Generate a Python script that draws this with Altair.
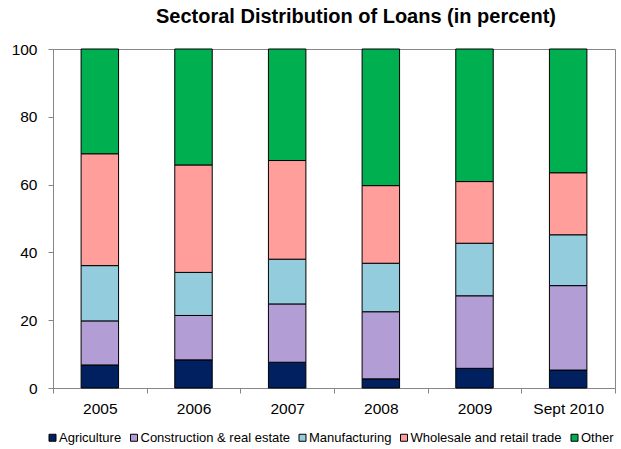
import altair as alt
import pandas as pd

years = ["2005", "2006", "2007", "2008", "2009", "Sept 2010"]
sectors = ["Agriculture", "Construction & real estate", "Manufacturing",
           "Wholesale and retail trade", "Other"]
colors = ["#002060", "#b29dd4", "#93cddd", "#ff9e9a", "#00b050"]

agriculture = [6.8, 8.3, 7.6, 2.7, 5.8, 5.3]
construction = [13.0, 13.1, 17.2, 19.8, 21.4, 24.9]
manufacturing = [16.3, 12.7, 13.2, 14.3, 15.5, 15.0]
wholesale = [33.0, 31.7, 29.1, 22.9, 18.2, 18.3]
other = [30.9, 34.2, 32.9, 40.3, 39.1, 36.5]

series = [agriculture, construction, manufacturing, wholesale, other]
rows = []
for k, (name, vals) in enumerate(zip(sectors, series)):
    for y, v in zip(years, vals):
        rows.append({"year": y, "sector": name, "value": v, "order": k})
df = pd.DataFrame(rows)

font = "Liberation Sans"
gray = "#868686"

chart = alt.Chart(df).mark_bar(
    width=alt.RelativeBandSize(band=0.4), stroke="black", strokeWidth=1
).encode(
    x=alt.X("year:N", sort=years, title=None,
            scale=alt.Scale(paddingInner=0, paddingOuter=0),
            axis=alt.Axis(labelAngle=0, tickBand="extent", domainColor=gray,
                          tickColor=gray, tickSize=5, labelFontSize=15.5,
                          labelColor="black", labelFont=font, labelPadding=8)),
    y=alt.Y("value:Q", stack="zero", title=None,
            scale=alt.Scale(domain=[0, 100], nice=False),
            axis=alt.Axis(values=[0, 20, 40, 60, 80, 100], grid=False,
                          domainColor=gray, tickColor=gray, tickSize=5,
                          labelFontSize=15.5, labelColor="black", labelFont=font,
                          labelPadding=11)),
    color=alt.Color("sector:N", sort=sectors,
                    scale=alt.Scale(domain=sectors, range=colors),
                    legend=alt.Legend(title=None, orient="none", direction="horizontal",
                                      columns=5, legendX=-7, legendY=382,
                                      symbolType="square", symbolSize=49,
                                      symbolStrokeColor="black", symbolStrokeWidth=1,
                                      labelFontSize=13, labelFont=font,
                                      labelColor="black", labelOffset=0,
                                      columnPadding=5.5, padding=0)),
    order=alt.Order("order:Q", sort="ascending"),
).properties(
    width=562, height=339,
    title=alt.TitleParams("Sectoral Distribution of Loans (in percent)",
                          font=font, fontSize=20, fontWeight="bold",
                          color="black", anchor="middle", dx=22, offset=15),
    padding={"left": 53, "top": 49, "right": 6, "bottom": 61},
    autosize=alt.AutoSizeParams(type="none"),
).configure_view(stroke=gray, strokeWidth=1)

chart.save("out.html", embed_options={"renderer": "svg", "actions": False})
